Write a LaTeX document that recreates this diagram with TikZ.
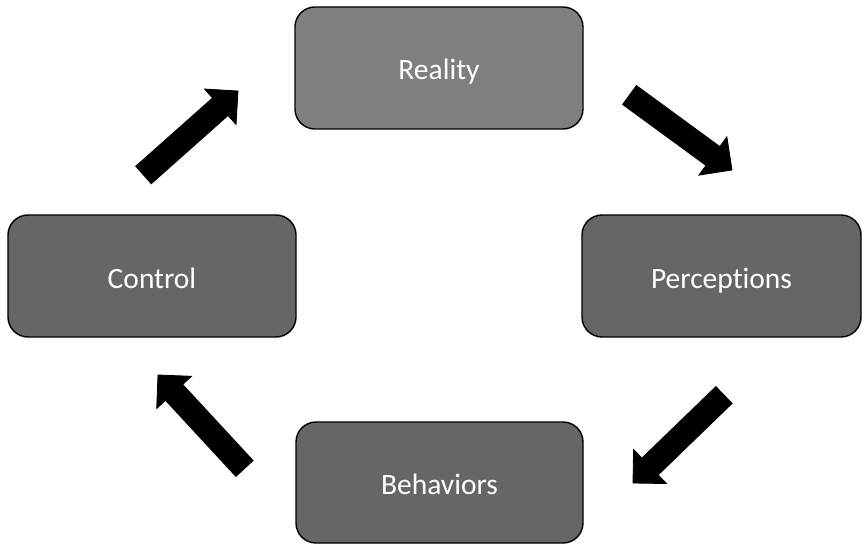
\documentclass[tikz,border=0pt]{standalone}
\usepackage{fontspec}
\setmainfont[Ligatures=NoCommon]{Carlito}
\usetikzlibrary{calc}

\definecolor{boxlight}{HTML}{7F7F7F}
\definecolor{boxdark}{HTML}{666666}

% half widths and head length of the thick block arrows
\def\shafthw{11.7bp}
\def\headhw{23.7bp}
\def\headlen{23.7bp}

% block arrow from a tail coordinate to a tip coordinate
\newcommand{\blockarrow}[2]{%
  \coordinate (#1-b) at ($(#2)!\headlen!(#1)$);
  \filldraw[arrowbody]
    ($(#1)!\shafthw!90:(#2)$) -- ($(#1-b)!\shafthw!90:(#2)$)
    -- ($(#1-b)!\headhw!90:(#2)$) -- (#2)
    -- ($(#1-b)!\headhw!-90:(#2)$) -- ($(#1-b)!\shafthw!-90:(#2)$)
    -- ($(#1)!\shafthw!-90:(#2)$) -- cycle;
}

\tikzset{
  stage/.style={draw=black, line width=1.4bp, rounded corners=20bp,
    rectangle, minimum height=122bp, text=white, inner sep=0pt,
    text height=28bp, text depth=4bp,
    font=\fontsize{29.5bp}{33bp}\selectfont},
  arrowbody/.style={fill=black, draw=black, line width=0.8bp, line join=miter}
}

\begin{document}
\begin{tikzpicture}[x=1bp, y=-1bp]
  \useasboundingbox (0,0) rectangle (862,544);

  % the four stages of the cycle
  \node[stage, fill=boxlight, minimum width=288bp] (reality) at (439,68) {Reality};
  \node[stage, fill=boxdark, minimum width=288bp] (control) at (152,276) {Control};
  \node[stage, fill=boxdark, minimum width=279bp] (perceptions) at (721.5,276) {Perceptions};
  \node[stage, fill=boxdark, minimum width=287bp, minimum height=121bp] (behaviors) at (439.5,482.5) {Behaviors};

  % arrow ends
  \coordinate (c2r-tail) at (143.5,175);
  \coordinate (c2r-tip)  at (238,91);
  \coordinate (r2p-tail) at (629.5,95);
  \coordinate (r2p-tip)  at (732,170);
  \coordinate (p2b-tail) at (724,395);
  \coordinate (p2b-tip)  at (633,483);
  \coordinate (b2c-tail) at (244.5,468.5);
  \coordinate (b2c-tip)  at (158,375);

  \blockarrow{c2r-tail}{c2r-tip}
  \blockarrow{r2p-tail}{r2p-tip}
  \blockarrow{p2b-tail}{p2b-tip}
  \blockarrow{b2c-tail}{b2c-tip}
\end{tikzpicture}
\end{document}
